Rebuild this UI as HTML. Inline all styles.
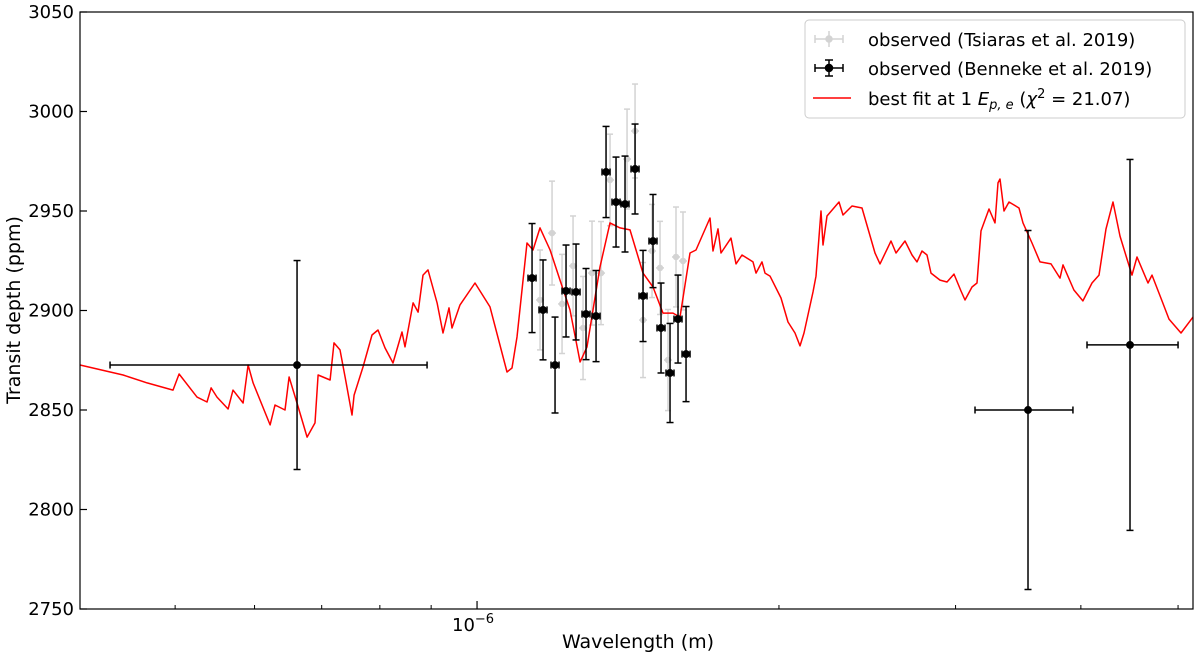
<!DOCTYPE html>
<html><head><meta charset="utf-8"><style>
html,body{margin:0;padding:0;background:#fff;}
svg{display:block;font-family:"DejaVu Sans","Liberation Sans",sans-serif;}
</style></head><body>
<svg id="chart" width="1200" height="658" viewBox="0 0 1200 658" xmlns="http://www.w3.org/2000/svg">
<rect x="0" y="0" width="1200" height="658" fill="#fff"/>
<g id="grid"></g>
<g id="series"></g>
<rect x="80" y="12" width="1113" height="597" fill="none" stroke="#000" stroke-width="1.2"/>
<g id="axes"></g>
<text x="638" y="648" font-size="19" text-anchor="middle">Wavelength (m)</text>
<text x="20" y="310" font-size="19" text-anchor="middle" transform="rotate(-90 20 310)">Transit depth (ppm)</text>
<g>
<rect x="805" y="20" width="380" height="98" rx="4" fill="#fff" stroke="#ccc"/>
<g stroke="#d3d3d3" stroke-width="1.5">
<line x1="815" y1="39" x2="843" y2="39"/><line x1="829" y1="31" x2="829" y2="47"/><line x1="815" y1="35" x2="815" y2="43"/><line x1="843" y1="35" x2="843" y2="43"/>
<circle cx="829" cy="39" r="3" fill="#d3d3d3"/></g>
<text x="868" y="46" font-size="18">observed (Tsiaras et al. 2019)</text>
<g stroke="#000" stroke-width="1.5">
<line x1="815" y1="68" x2="843" y2="68"/><line x1="829" y1="60" x2="829" y2="76"/><line x1="815" y1="64" x2="815" y2="72"/><line x1="843" y1="64" x2="843" y2="72"/>
<line x1="825" y1="60" x2="833" y2="60"/><line x1="825" y1="76" x2="833" y2="76"/>
<circle cx="829" cy="68" r="3.5" fill="#000"/></g>
<text x="868" y="75" font-size="18">observed (Benneke et al. 2019)</text>
<line x1="813" y1="98" x2="851" y2="98" stroke="#ff0000" stroke-width="1.5"/>
<text x="868" y="105" font-size="18">best fit at 1 <tspan font-style="italic">E</tspan><tspan font-style="italic" font-size="13" dy="4">p, e</tspan><tspan dy="-4"> (</tspan><tspan font-style="italic">χ</tspan><tspan font-size="13" dy="-7">2</tspan><tspan dy="7"> = 21.07)</tspan></text>
</g>
</svg>
<script>
// model spectrum (wavelength in micron, depth in ppm)
const modelWl=[0.4019,0.4437,0.4688,0.4976,0.5046,0.5258,0.5380,0.5430,0.5505,0.5646,0.5711,0.5844,0.5912,0.5980,0.6218,0.6289,0.6435,0.6495,0.6615,0.6769,0.6894,0.6942,0.7136,0.7201,0.7301,0.7386,0.7505,0.7540,0.7697,0.7858,0.7967,0.8096,0.8246,0.8418,0.8476,0.8634,0.8734,0.8834,0.8936,0.9123,0.9249,0.9377,0.9442,0.9617,0.9954,1.0303,1.0713,1.0836,1.0961,1.1216,1.1372,1.1556,1.1825,1.2099,1.2380,1.2668,1.2873,1.3263,1.3571,1.3886,1.4208,1.4639,1.4978,1.5327,1.5683,1.5936,1.6307,1.6533,1.7073,1.7191,1.7390,1.7510,1.7916,1.8123,1.8375,1.8844,1.8974,1.9238,1.9371,1.9594,2.0095,2.0421,2.0751,2.0991,2.1185,2.1627,2.1775,2.2027,2.2128,2.2333,2.2956,2.3168,2.3652,2.4200,2.4935,2.5223,2.5868,2.6166,2.6713,2.7145,2.7459,2.7776,2.8098,2.8355,2.8948,2.9418,2.9893,3.0377,3.0658,3.1155,3.1515,3.1804,3.2395,3.2845,3.3072,3.3224,3.3529,3.3917,3.4706,3.5027,3.5756,3.6420,3.7350,3.8131,3.8395,3.9369,4.0192,4.1033,4.1696,4.2372,4.3060,4.3757,4.4466,4.4980,4.5500,4.6664,4.7095,4.8192,4.8970,5.0340,5.1745];
const modelDepth=[2872.6,2867.6,2863.6,2860,2868.1,2856.5,2854,2861.1,2856.5,2850.5,2860,2853.5,2872.6,2863.6,2842.5,2852.5,2850,2866.6,2853.5,2836.4,2843.5,2867.6,2865.1,2883.7,2880.2,2866.6,2847.5,2857.5,2871.6,2887.7,2890.2,2881.2,2873.6,2889.2,2881.7,2903.8,2899.2,2917.8,2920.4,2903.8,2888.7,2901.3,2891.2,2902.8,2913.8,2901.8,2869.1,2871.1,2886.7,2933.9,2930.4,2941.5,2930.4,2915.3,2900.3,2874.1,2881.7,2921.9,2944,2941.5,2940.5,2918.8,2911.8,2898.7,2898.7,2896.7,2928.9,2930.4,2946.5,2929.9,2941,2928.9,2936.4,2923.4,2927.9,2924.4,2918.8,2924.4,2918.8,2917.3,2906.3,2894.2,2888.7,2882.2,2888.7,2909.3,2917.3,2950,2932.9,2947.5,2954.5,2948,2952.5,2951.5,2928.9,2923.4,2934.9,2928.9,2934.9,2927.9,2924.4,2929.9,2927.9,2918.8,2915.3,2914.3,2918.3,2909.8,2905.3,2911.8,2913.8,2940,2951,2944,2964.1,2966.1,2950,2954.5,2951.5,2944,2933.9,2924.4,2923.4,2916.3,2922.9,2910.3,2904.8,2913.8,2917.8,2941,2954.5,2937.4,2925.9,2917.8,2926.9,2913.8,2917.8,2904.8,2895.7,2888.7,2896.7];
// Tsiaras et al. 2019
const tsWl=[1.1556,1.1879,1.2155,1.2466,1.2755,1.3021,1.3293,1.3571,1.4111,1.4373,1.4639,1.4944,1.5221,1.5503,1.5790,1.6046];
const tsDepth=[2905.3,2938.9,2903.3,2922.4,2891.2,2918.8,2918.8,2965.6,2976.1,2990.2,2895.2,2929.9,2921.4,2875.1,2926.9,2924.9];
const tsErr=[25.1,26.1,24.9,25.1,25.9,26.1,25.9,23,25.1,23.6,28.9,23.4,23.4,25.4,25.1,24.6];
// Benneke et al. 2019
const bnWl=[0.6615,1.1346,1.1636,1.1961,1.2267,1.2552,1.2843,1.3142,1.3447,1.3759,1.4046,1.4373,1.4639,1.4978,1.5256,1.5575,1.5863,1.6158,3.5429,4.4778];
const bnDepth=[2872.6,2916.3,2900.3,2872.6,2909.8,2909.3,2898.2,2897.2,2969.6,2954.5,2953.5,2971.1,2907.3,2934.9,2891.2,2868.6,2895.7,2878.1,2850,2882.7];
const bnErr=[52.5,27.4,25.1,24.1,23.1,24.1,22.9,22.9,22.9,22.6,24.1,22.6,22.9,23.4,22.6,24.9,22.1,23.9,90.2,93.2];
const bnWlLo=[0.4306,1.1241,1.1529,1.1851,1.2154,1.2436,1.2725,1.3021,1.3323,1.3632,1.3917,1.4241,1.4504,1.4840,1.5116,1.5432,1.5717,1.6010,3.1370,4.0568];
const bnWlHi=[0.8916,1.1451,1.1743,1.2071,1.2380,1.2668,1.2961,1.3263,1.3571,1.3886,1.4175,1.4505,1.4774,1.5116,1.5396,1.5718,1.6009,1.6307,3.9279,4.9999];
const yTicks=[2750,2800,2850,2900,2950,3000,3050];
const xMinor=[0.5,0.6,0.7,0.8,0.9,2,3,4,5];

const NS="http://www.w3.org/2000/svg";
const X0=80,X1=1193,Y0=12,Y1=609;
const LMIN=Math.log10(0.4019),LMAX=Math.log10(5.1745);
function xs(w){return X0+(Math.log10(w)-LMIN)/(LMAX-LMIN)*(X1-X0);}
function ys(d){return Y1-(d-2750)/(3050-2750)*(Y1-Y0);}
function mk(tag,attrs,parent){const e=document.createElementNS(NS,tag);for(const k in attrs)e.setAttribute(k,attrs[k]);parent.appendChild(e);return e;}
const axes=document.getElementById('axes'),series=document.getElementById('series');

yTicks.forEach(t=>{
  const y=ys(t);
  const l=mk('line',{x1:X0,y1:y,x2:X0+7,y2:y,stroke:'#000','stroke-width':1.2},axes);
  
  
  const tx=mk('text',{x:X0-6,y:y+6,'font-size':18,'text-anchor':'end'},axes);
  tx.textContent=t;
  
  
});
xMinor.forEach(w=>{
  const x=xs(w);
  const l=mk('line',{x1:x,y1:Y1,x2:x,y2:Y1-4,stroke:'#000','stroke-width':1},axes);
  
  
});
{
  const x=xs(1);
  const l=mk('line',{x1:x,y1:Y1,x2:x,y2:Y1-8,stroke:'#000','stroke-width':1.2},axes);
  
  
  const tx=mk('text',{x:x-4,y:Y1+22,'font-size':18,'text-anchor':'middle'},axes);
  tx.innerHTML='10<tspan font-size="13" dy="-8">−6</tspan>';
  
  
}

// Tsiaras gray points
tsWl.forEach((w,i)=>{
  const g=mk('g',{stroke:'#d3d3d3','stroke-width':1.5,fill:'#d3d3d3'},series);
  
  
  const x=xs(w),y=ys(tsDepth[i]),yt=ys(tsDepth[i]+tsErr[i]),yb=ys(tsDepth[i]-tsErr[i]);
  mk('line',{x1:x,y1:yt,x2:x,y2:yb},g);
  mk('line',{x1:x-3,y1:yt,x2:x+3,y2:yt},g);
  mk('line',{x1:x-3,y1:yb,x2:x+3,y2:yb},g);
  mk('line',{x1:x-4,y1:y,x2:x+4,y2:y},g);
  mk('circle',{cx:x,cy:y,r:2.5},g);
});
// model line
{
  let d='';
  modelWl.forEach((w,i)=>{d+=(i?'L':'M')+xs(w).toFixed(1)+' '+ys(modelDepth[i]).toFixed(1);});
  const p=mk('path',{d:d,fill:'none',stroke:'#ff0000','stroke-width':1.5,'stroke-linejoin':'round'},series);
  
  
}
// Benneke black points
bnWl.forEach((w,i)=>{
  const g=mk('g',{stroke:'#000','stroke-width':1.5,fill:'#000'},series);
  
  
  const x=xs(w),y=ys(bnDepth[i]),yt=ys(bnDepth[i]+bnErr[i]),yb=ys(bnDepth[i]-bnErr[i]);
  const xl=xs(bnWlLo[i]),xh=xs(bnWlHi[i]);
  mk('line',{x1:x,y1:yt,x2:x,y2:yb},g);
  mk('line',{x1:x-3.5,y1:yt,x2:x+3.5,y2:yt},g);
  mk('line',{x1:x-3.5,y1:yb,x2:x+3.5,y2:yb},g);
  mk('line',{x1:xl,y1:y,x2:xh,y2:y},g);
  mk('line',{x1:xl,y1:y-3.5,x2:xl,y2:y+3.5},g);
  mk('line',{x1:xh,y1:y-3.5,x2:xh,y2:y+3.5},g);
  mk('circle',{cx:x,cy:y,r:3.2},g);
});
</script>
</body></html>
